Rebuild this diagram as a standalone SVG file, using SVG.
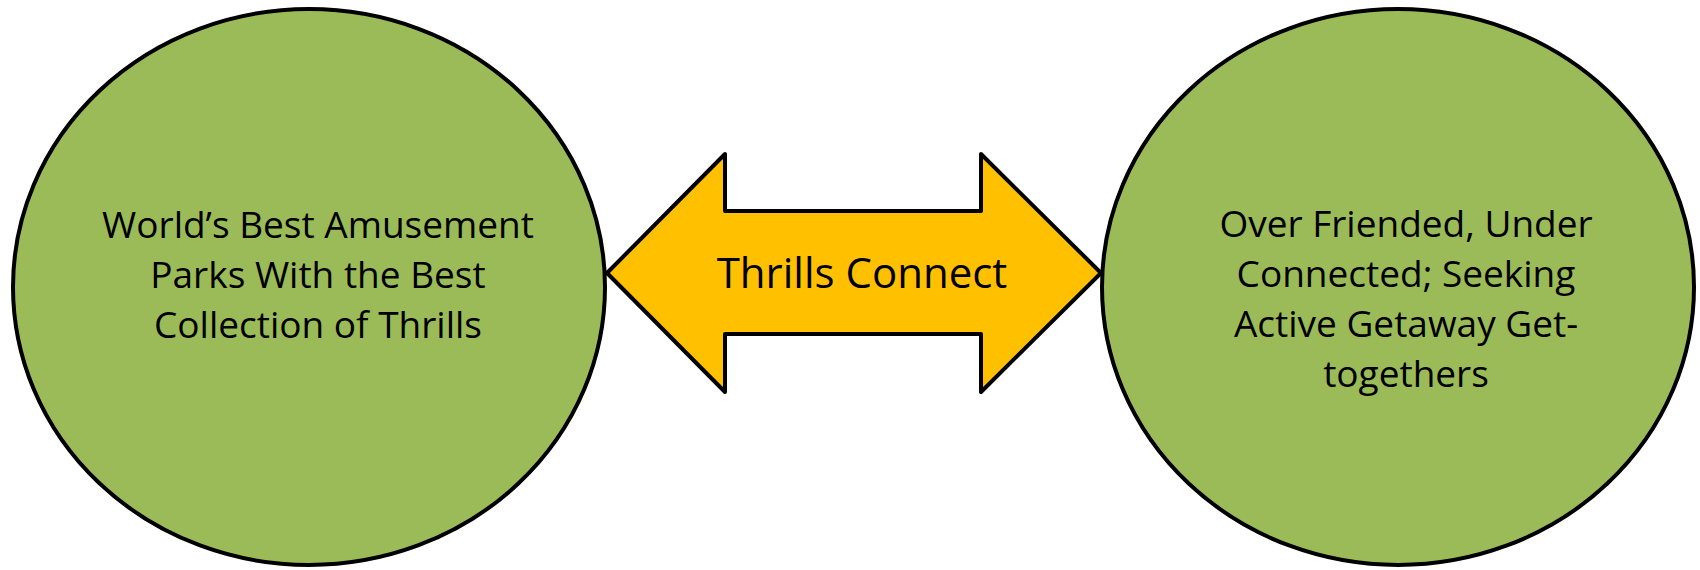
<svg xmlns="http://www.w3.org/2000/svg" width="1700" height="570" viewBox="0 0 1700 570">
<style>
.node{fill:#9BBB59;stroke:#000;stroke-width:4}
.arrow{fill:#FFC000;stroke:#000;stroke-width:4;stroke-linejoin:round}
.lbl{font-family:"Open Sans","Liberation Sans",sans-serif;font-size:37px;fill:#000;text-anchor:middle}
.big{font-size:42px}
</style>
<rect width="1700" height="570" fill="#fff"/>
<g id="connectors">
<g id="thrills-connect">
<polygon class="arrow" points="607,273 725,154 725,211 981,211 981,154 1101,273 981,392 981,334 725,334 725,392"/>
<text class="lbl big" x="862" y="288">Thrills Connect</text>
</g>
</g>
<g id="node-parks">
<ellipse class="node" cx="309" cy="287" rx="296" ry="278"/>
<text class="lbl" x="318" y="238">World’s Best Amusement</text>
<text class="lbl" x="318" y="288">Parks With the Best</text>
<text class="lbl" x="318" y="338">Collection of Thrills</text>
</g>
<g id="node-seekers">
<ellipse class="node" cx="1398" cy="287" rx="296" ry="278"/>
<text class="lbl" x="1406" y="237">Over Friended, Under</text>
<text class="lbl" x="1406" y="287">Connected; Seeking</text>
<text class="lbl" x="1406" y="337">Active Getaway Get-</text>
<text class="lbl" x="1406" y="387">togethers</text>
</g>
</svg>
